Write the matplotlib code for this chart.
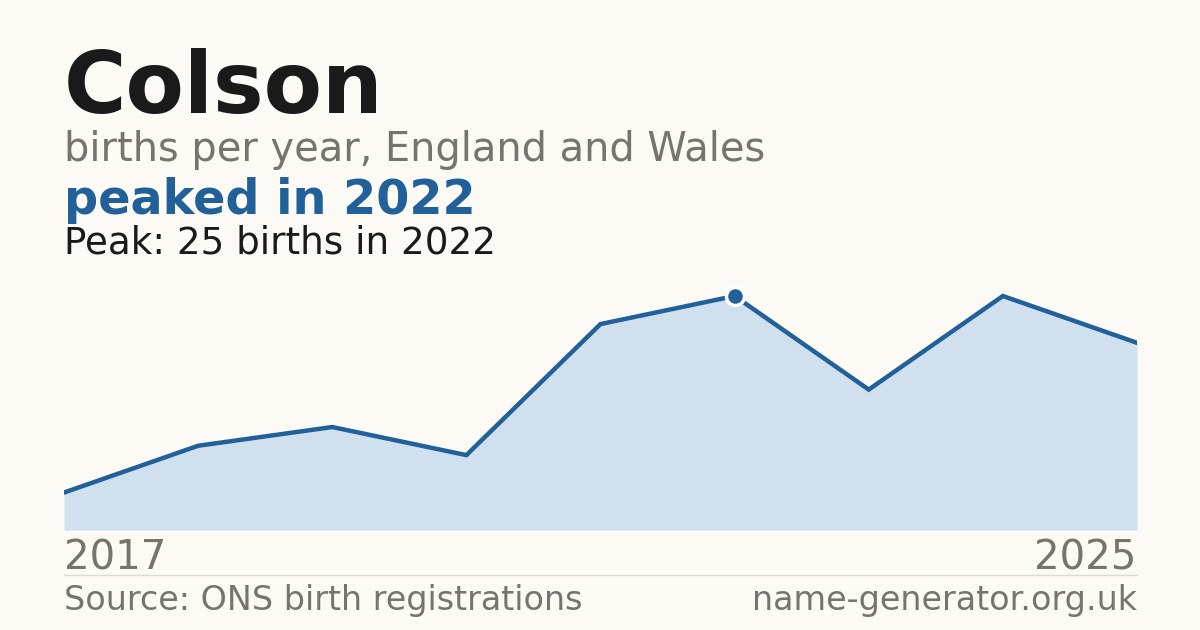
import matplotlib
matplotlib.use('Agg')
import matplotlib.pyplot as plt

# data
years = [2017, 2018, 2019, 2020, 2021, 2022, 2023, 2024, 2025]
births = [4, 9, 11, 8, 22, 25, 15, 25, 20]
peak_year = 2022
peak_value = 25

bg = '#fbfaf5'
blue = '#22609a'
fill = '#d0e0ef'
grey = '#77736e'
dark = '#1a1a1a'

W, H = 1200, 630
fig = plt.figure(figsize=(12, 6.3), dpi=100, facecolor=bg)

def fy(px):
    return 1 - px / H

# plot area: baseline at 530 px, 25 births at 296 px
top_px = 270
ax = fig.add_axes([64 / W, fy(530), (1137 - 64) / W, (530 - top_px) / H])
ax.set_facecolor(bg)
ax.fill_between(years, births, 0, color=fill, lw=0)
ax.plot(years, births, color=blue, lw=3.2, solid_joinstyle='miter')
ax.plot([peak_year], [peak_value], marker='o', ms=13, color=blue,
        mec='white', mew=2.5, zorder=5)
ax.set_xlim(years[0], years[-1])
ax.set_ylim(0, peak_value * (530 - top_px) / (530 - 296))
ax.axis('off')

# header text
fig.text(64 / W, fy(113), 'Colson', fontsize=61.3, fontweight='bold',
         color=dark, va='baseline')
fig.text(64 / W, fy(161), 'births per year, England and Wales',
         fontsize=28.7, color=grey, va='baseline')
fig.text(64 / W, fy(214), 'peaked in %d' % peak_year, fontsize=34.4,
         fontweight='bold', color=blue, va='baseline')
fig.text(64 / W, fy(254), 'Peak: %d births in %d' % (peak_value, peak_year),
         fontsize=26.8, color=dark, va='baseline')

# x labels
fig.text(64 / W, fy(569), str(years[0]), fontsize=29, color=grey, va='baseline')
fig.text(1136 / W, fy(569), str(years[-1]), fontsize=29, color=grey,
         va='baseline', ha='right')

# separator + footer
fig.add_artist(plt.Line2D([64 / W, 1137 / W], [fy(575), fy(575)],
                          color='#dddad3', lw=1))
fig.text(64 / W, fy(610), 'Source: ONS birth registrations', fontsize=24,
         color=grey, va='baseline')
fig.text(1137 / W, fy(610), 'name-generator.org.uk', fontsize=24,
         color=grey, va='baseline', ha='right')

fig.savefig('out.png', dpi=100, facecolor=bg)
